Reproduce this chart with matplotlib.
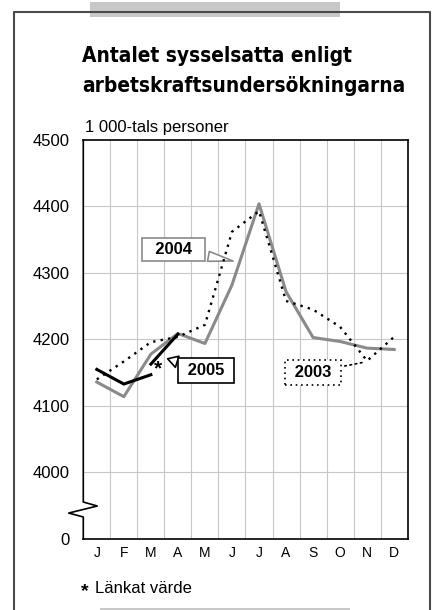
import matplotlib
matplotlib.use("Agg")
import matplotlib.pyplot as plt
from matplotlib import font_manager
from matplotlib.lines import Line2D
from matplotlib.patches import Rectangle

plt.rcParams['font.family'] = ['Liberation Sans', 'DejaVu Sans']

months = ['J', 'F', 'M', 'A', 'M', 'J', 'J', 'A', 'S', 'O', 'N', 'D']
y2003 = [4140, 4167, 4196, 4204, 4222, 4362, 4393, 4258, 4245, 4219, 4168, 4204]
y2004 = [4136, 4114, 4178, 4209, 4194, 4282, 4404, 4272, 4203, 4197, 4187, 4185]
y2005 = [4155, 4133, 4147]
y2005_linked = [4163, 4208]   # march (linked value) and april
ytick_vals = [4000, 4100, 4200, 4300, 4400, 4500]

BASE = 3900   # the axis is broken between 0 and 4000
GRAY = '#8a8a8a'
DOTS = (0, (1, 2.2))


def yp(v):
    return v - BASE


def xp(i):
    return i + 0.5


# a narrow bold face for the heading if one is installed
title_font = dict(family='Liberation Sans')
for f in font_manager.fontManager.ttflist:
    if f.name == 'Liberation Sans Narrow':
        title_font = dict(family='Liberation Sans Narrow')
        break
    if f.name == 'DejaVu Sans' and f.stretch == 'condensed':
        title_font = dict(family='DejaVu Sans', stretch='condensed')

fig = plt.figure(figsize=(4.32, 6.10), dpi=100)
ax = fig.add_axes([0.1928, 0.1164, 0.7509, 0.6541])
ax.set_xlim(0, 12)
ax.set_ylim(0, 600)

# grid
for i in range(1, 12):
    ax.axvline(i, color='#c8c8c8', lw=0.8, zorder=0)
for v in ytick_vals[:-1]:
    ax.axhline(yp(v), color='#c8c8c8', lw=0.8, zorder=0)

ax.set_xticks([xp(i) for i in range(12)])
ax.set_xticklabels(months, fontsize=10)
ax.set_yticks([0] + [yp(v) for v in ytick_vals])
ax.set_yticklabels(['0'] + [str(v) for v in ytick_vals], fontsize=12)
ax.tick_params(axis='x', length=0, pad=5)
ax.tick_params(axis='y', length=0, pad=9.5)

for side in ['top', 'right', 'bottom']:
    ax.spines[side].set_linewidth(1.2)
ax.spines['left'].set_visible(False)

# left axis with a break
brk_x = [0, 0, 0.043, -0.045, 0, 0]
brk_y = [1, 0.0927, 0.0827, 0.065, 0.0552, 0]
ax.add_line(Line2D(brk_x, brk_y, transform=ax.transAxes, color='black',
                   lw=1.2, clip_on=False, zorder=5))

# series
ax.plot([xp(i) for i in range(12)], [yp(v) for v in y2004], color=GRAY,
        lw=2.2, zorder=2)
ax.plot([xp(i) for i in range(12)], [yp(v) for v in y2003], color='black',
        lw=1.7, ls=DOTS, dash_capstyle='butt', zorder=3)
ax.plot([xp(i) for i in range(3)], [yp(v) for v in y2005], color='black',
        lw=2.2, zorder=4)
ax.plot([xp(2), xp(3)], [yp(v) for v in y2005_linked], color='black',
        lw=2.2, zorder=4)
ax.text(2.77, yp(4156), '*', fontsize=15, fontweight='bold',
        ha='center', va='center', zorder=5)

# callouts
ax.annotate('  2004  ', xy=(5.54, yp(4318)), xytext=(3.33, yp(4335)),
            ha='center', va='center', fontsize=12, fontweight='bold',
            bbox=dict(boxstyle='square,pad=0.25', fc='white', ec=GRAY, lw=1.2),
            arrowprops=dict(arrowstyle='wedge,tail_width=0.6', fc='white',
                            ec=GRAY, lw=1.2, shrinkB=0), zorder=1.5)
ax.annotate(' 2005 ', xy=(3.12, yp(4171)), xytext=(4.53, yp(4153)),
            ha='center', va='center', fontsize=12, fontweight='bold',
            bbox=dict(boxstyle='square,pad=0.3', fc='white', ec='black', lw=1.2),
            arrowprops=dict(arrowstyle='wedge,tail_width=0.7', fc='white',
                            ec='black', lw=1.2, shrinkA=0, shrinkB=0),
            zorder=1.5)
ax.annotate(' 2003 ', xy=(10.41, yp(4166)), xytext=(8.51, yp(4151)),
            ha='center', va='center', fontsize=12, fontweight='bold',
            bbox=dict(boxstyle='square,pad=0.3', fc='white', ec='black',
                      lw=1.2, ls=DOTS),
            arrowprops=dict(arrowstyle='-', color='black', lw=1.2, ls=DOTS),
            zorder=1.5)

# heading, sized so the long line spans the plot width
t1 = fig.text(82 / 432, 1 - 62 / 610, 'Antalet sysselsatta enligt',
              fontsize=17, fontweight='bold', va='baseline', **title_font)
t2 = fig.text(82 / 432, 1 - 92 / 610, 'arbetskraftsundersökningarna',
              fontsize=17, fontweight='bold', va='baseline', **title_font)
renderer = fig.canvas.get_renderer()
w = t2.get_window_extent(renderer).width
size = 17 * 323 / w
t1.set_fontsize(size)
t2.set_fontsize(size)

fig.text(85 / 432, 1 - 131.7 / 610, '1 000-tals personer', fontsize=12,
         va='baseline')
fig.text(81 / 432, 1 - 596 / 610, '*', fontsize=14, fontweight='bold',
         va='baseline')
fig.text(95 / 432, 1 - 592.7 / 610, 'Länkat värde', fontsize=12,
         va='baseline')

# page frame and bars
fig.add_artist(Line2D([0.0324, 0.0324, 0.9954, 0.9954], [0, 0.9808, 0.9808, 0],
                      transform=fig.transFigure, color='#4a4a4a', lw=1.5))
fig.add_artist(Rectangle((0.2083, 0.9726), 0.5787, 0.0241,
                         transform=fig.transFigure, color='#c8c8c8', lw=0))
fig.add_artist(Rectangle((0.2315, 0), 0.5787, 0.004,
                         transform=fig.transFigure, color='#c8c8c8', lw=0))

fig.savefig('out.png', dpi=100)
